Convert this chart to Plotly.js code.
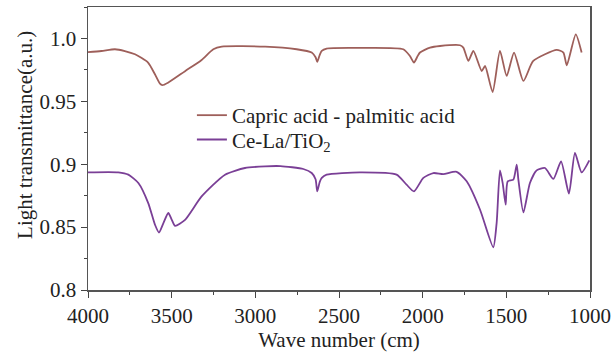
<!DOCTYPE html>
<html>
<head>
<meta charset="utf-8">
<script src="https://cdn.plot.ly/plotly-3.0.1.min.js"></script>
<style>html,body{margin:0;padding:0;background:#fff;}#chart{width:613px;height:354px;}</style>
</head>
<body>
<div id="chart"></div>
<script>
// Capric acid - palmitic acid spectrum
const capricX = [4000,3920,3839,3780,3719,3641,3600,3570,3556,3522,3420,3321,3251,3201,2942,2753,2663,2640,2630,2615,2603,2574,2375,2116,2076,2052,2030,2016,1956,1896,1777,1757,1727,1697,1647,1627,1582,1538,1498,1454,1398,1339,1199,1159,1139,1085,1050];
const capricY = [0.9892,0.9900,0.9914,0.9900,0.9874,0.9808,0.9715,0.9640,0.9629,0.9648,0.9740,0.9829,0.9914,0.9935,0.9935,0.9914,0.9888,0.9850,0.9813,0.9870,0.9901,0.9920,0.9925,0.9914,0.9860,0.9808,0.9860,0.9888,0.9927,0.9940,0.9946,0.9927,0.9821,0.9901,0.9741,0.9781,0.9574,0.9901,0.9702,0.9888,0.9662,0.9821,0.9909,0.9888,0.9786,1.0033,0.9888];
// Ce-La/TiO2 spectrum
const celaX = [4000,3819,3759,3699,3640,3600,3576,3550,3520,3500,3480,3420,3321,3181,3062,2942,2850,2713,2663,2640,2630,2615,2603,2574,2375,2156,2096,2052,1996,1936,1877,1797,1737,1657,1578,1558,1538,1522,1504,1492,1458,1438,1428,1398,1359,1319,1269,1219,1173,1126,1090,1050,1004];
const celaY = [0.8935,0.8935,0.8917,0.8851,0.8691,0.8520,0.8457,0.8530,0.8612,0.8560,0.8510,0.8558,0.8744,0.8917,0.8970,0.8983,0.8985,0.8962,0.8930,0.8880,0.8784,0.8860,0.8891,0.8917,0.8935,0.8917,0.8837,0.8784,0.8891,0.8930,0.8922,0.8940,0.8864,0.8638,0.8340,0.8532,0.8951,0.8851,0.8678,0.8864,0.8877,0.8997,0.8877,0.8617,0.8851,0.8951,0.8970,0.8883,0.9023,0.8766,0.9090,0.8935,0.9031];

const seriesNames = ['Capric acid - palmitic acid', 'Ce-La/TiO<sub>2</sub>'];
const yTickVals = [0.8, 0.85, 0.9, 0.95, 1.0];
const yTickText = ['0.8', '0.85', '0.9', '0.95', '1.0'];
const yMinorVals = [0.825, 0.875, 0.925, 0.975, 1.025];
const xTickVals = [4000, 3500, 3000, 2500, 2000, 1500, 1000];
const xTickText = ['4000', '3500', '3000', '2500', '2000', '1500', '1000'];
const xMinorVals = [3750, 3250, 2750, 2250, 1750, 1250];
const xTitle = 'Wave number (cm)';
const yTitle = 'Light transmittance(a.u.)';

const FONT = 'Liberation Serif, Times New Roman, serif';
const legFont = {family: FONT, size: 21, color: '#222'};

const traces = [
  {x: capricX, y: capricY, name: seriesNames[0], type: 'scatter', mode: 'lines', legend: 'legend',
   line: {color: '#9e5f5a', width: 1.8, shape: 'spline', smoothing: 0.6}},
  {x: celaX, y: celaY, name: seriesNames[1], type: 'scatter', mode: 'lines', legend: 'legend2',
   line: {color: '#7a3f96', width: 1.8, shape: 'spline', smoothing: 0.6}}
];

const layout = {
  width: 613, height: 354,
  margin: {l: 88, r: 23, t: 7, b: 64},
  paper_bgcolor: '#fff', plot_bgcolor: '#fff',
  font: {family: FONT, size: 21, color: '#222'},
  showlegend: true,
  legend: {x: 0.207, y: 0.689, xanchor: 'left', yanchor: 'top', bgcolor: 'rgba(0,0,0,0)', font: legFont},
  legend2: {x: 0.207, y: 0.603, xanchor: 'left', yanchor: 'top', bgcolor: 'rgba(0,0,0,0)', font: legFont},
  xaxis: {range: [4000, 1000], tickmode: 'array', tickvals: xTickVals, ticktext: xTickText,
          ticks: 'outside', ticklen: 6, tickcolor: '#444', showgrid: false, zeroline: false,
          showline: true, mirror: true, linecolor: '#555', linewidth: 1.5,
          minor: {tickmode: 'array', tickvals: xMinorVals, ticks: 'outside', ticklen: 3, tickcolor: '#444', showgrid: false},
          title: {text: xTitle, font: {family: FONT, size: 21, color: '#222'}, standoff: 4}},
  yaxis: {range: [0.8, 1.025], tickmode: 'array', tickvals: yTickVals, ticktext: yTickText,
          ticks: 'outside', ticklen: 6, tickcolor: '#444', showgrid: false, zeroline: false,
          showline: true, mirror: true, linecolor: '#555', linewidth: 1.5,
          minor: {tickmode: 'array', tickvals: yMinorVals, ticks: 'outside', ticklen: 3, tickcolor: '#444', showgrid: false}},
  annotations: [{text: yTitle, xref: 'paper', yref: 'paper', x: -0.1255, y: 0.548,
                 xanchor: 'center', yanchor: 'middle', textangle: -90, showarrow: false,
                 font: {family: FONT, size: 21, color: '#222'}}]
};

Plotly.newPlot('chart', traces, layout, {displayModeBar: false, staticPlot: true});
</script>
</body>
</html>
